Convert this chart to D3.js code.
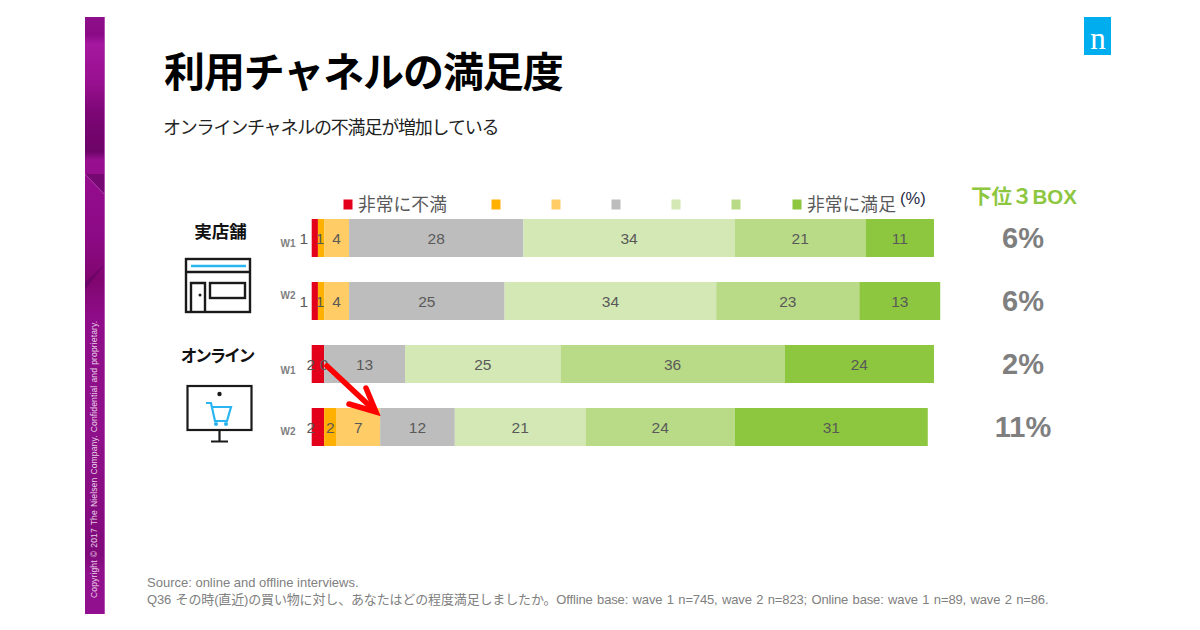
<!DOCTYPE html>
<html><head><meta charset="utf-8">
<script src="https://cdn.jsdelivr.net/npm/d3@7"></script>
<style>html,body{margin:0;padding:0;background:#fff}svg{display:block}
text{font-family:"Liberation Sans","Noto Sans CJK JP",sans-serif}</style></head>
<body><svg id="c" width="1200" height="630"></svg>
<script>
const rows = ["store-W1","store-W2","online-W1","online-W2"];
const waves = ["W1","W2","W1","W2"];
const series = ["非常に不満","s2","s3","s4","s5","s6","非常に満足"];
const colors = ["#e2001a","#ffb000","#ffcc66","#bdbdbd","#d3e8b4","#b9da87","#8dc63f"];
const veryDissatisfied = [1,1,2,2];
const dissatisfied2 = [1,1,0,2];
const dissatisfied3 = [4,4,0,7];
const neutral = [28,25,13,12];
const satisfied5 = [34,34,25,21];
const satisfied6 = [21,23,36,24];
const verySatisfied = [11,13,24,31];
const bottom3 = ["6%","6%","2%","11%"];
const waveOffsets = [5,-6,6,4];
const legendPositions = [348,496,556,616,676,736,797];

const table = [veryDissatisfied,dissatisfied2,dissatisfied3,neutral,satisfied5,satisfied6,verySatisfied];
const svg = d3.select("#c");
const JP = '"Noto Sans CJK JP","Liberation Sans",sans-serif';
const AR = '"Liberation Sans","Noto Sans CJK JP",sans-serif';
const defs = svg.append("defs");

// side band
const g = defs.append("linearGradient").attr("id","band").attr("x1",0).attr("x2",0).attr("y1",0).attr("y2",1);
[[0,"#8e0f8a"],[.03,"#8a0a86"],[.045,"#a5189f"],[.11,"#98108f"],[.16,"#7c0675"],[.225,"#6d0467"],[.24,"#98108f"],[.29,"#920c8c"],[.37,"#8c0a85"],[.44,"#80066f"],[.5,"#8e0c88"],[.7,"#8e108a"],[.9,"#800a7a"],[.93,"#8e108a"],[1,"#921090"]]
  .forEach(d=>g.append("stop").attr("offset",d[0]).attr("stop-color",d[1]));
svg.append("rect").attr("x",85).attr("y",17).attr("width",20).attr("height",597).attr("fill","url(#band)");
svg.append("rect").attr("x",104).attr("y",17).attr("width",1).attr("height",597).attr("fill","#b850b2");
svg.append("path").attr("d","M85 174L104 174L104 194Z").attr("fill","#760872");
svg.append("path").attr("d","M85 174L104 194").attr("stroke","#b040aa").attr("stroke-width",1).attr("fill","none");
svg.append("path").attr("d","M85 290L104 265L85 282Z").attr("fill","#6d0568");
svg.append("text").attr("transform","translate(97,598) rotate(-90)").attr("font-size",8.6).attr("fill","#e8cde6")
  .attr("font-family",AR).attr("word-spacing",.6).attr("letter-spacing",.1)
  .text("Copyright © 2017 The Nielsen Company. Confidential and proprietary.");

// logo
svg.append("rect").attr("x",1084).attr("y",17).attr("width",27).attr("height",38).attr("fill","#00aeef");
svg.append("text").attr("x",1098).attr("y",49).attr("text-anchor","middle").attr("fill","#fff")
  .attr("style",'font-family:"Liberation Serif",serif').attr("font-size",31).text("n");

// titles
svg.append("text").attr("x",164).attr("y",87).attr("font-size",41).attr("font-weight",700).attr("fill","#000")
  .attr("style","font-family:"+JP).attr("letter-spacing",-1.1).text("利用チャネルの満足度");
svg.append("text").attr("x",163).attr("y",134).attr("font-size",18).attr("fill","#222")
  .attr("style","font-family:"+JP).attr("letter-spacing",-1.2).text("オンラインチャネルの不満足が増加している");

// scales
const x = d3.scaleLinear().domain([0,100]).range([311.7,934]);
const y = d3.scaleBand().domain(rows).range([206.5,458.5]).paddingInner(25/63).paddingOuter(12.5/63);
const legendX = d3.scaleOrdinal().domain(series).range(legendPositions);

// legend
svg.append("g").selectAll("rect").data(series).join("rect")
  .attr("x",d=>legendX(d)-4.5).attr("y",199.5).attr("width",9).attr("height",10)
  .attr("fill",(d,i)=>colors[i]);
svg.append("g").selectAll("text").data(series.filter(d=>d[0]==="非")).join("text")
  .attr("x",d=>legendX(d)+10).attr("y",210.5).attr("font-size",17.8).attr("fill","#595959")
  .attr("style","font-family:"+JP).text(d=>d);
svg.append("text").attr("x",900).attr("y",204).attr("font-size",16.5).attr("fill","#1f2a44").attr("font-family",AR).text("(%)");
svg.append("text").attr("x",971).attr("y",204).attr("font-size",20.5).attr("font-weight",700).attr("fill","#8dc63f")
  .attr("font-family",AR).text("下位３BOX");

// bars
rows.forEach((r,ri)=>{
  let cum = 0;
  const gr = svg.append("g");
  const segs = table.map((s,si)=>{const o={v:s[ri],si,a:cum,b:cum+s[ri]};cum+=s[ri];return o;});
  gr.selectAll("rect").data(segs).join("rect")
    .attr("x",d=>x(d.a)).attr("width",d=>x(d.b)-x(d.a))
    .attr("y",y(r)).attr("height",y.bandwidth()).attr("fill",d=>colors[d.si]);
  gr.selectAll("text").data(segs.filter((d,i)=>!(d.v===0&&i>0&&segs[i-1].v===0))).join("text")
    .attr("x",d=>{
      const c=(x(d.a)+x(d.b))/2;
      return d.si===0 ? c-(d.v===1?11:7) : d.si===1&&d.v===1 ? c-1 : c;
    })
    .attr("y",y(r)+y.bandwidth()/2+5.5).attr("text-anchor","middle")
    .attr("font-size",15.5).attr("fill","#595959").attr("font-family",AR).text(d=>d.v);
  svg.append("text").attr("x",288).attr("y",y(r)+y.bandwidth()/2+waveOffsets[ri]+4)
    .attr("text-anchor","middle").attr("font-size",10).attr("font-weight",700).attr("fill","#7f7f7f")
    .attr("font-family",AR).text(waves[ri]);
  svg.append("text").attr("x",1023).attr("y",y(r)+y.bandwidth()/2+10).attr("text-anchor","middle")
    .attr("font-size",29).attr("font-weight",700).attr("fill","#7f7f7f").attr("font-family",AR).text(bottom3[ri]);
});

// arrow
svg.append("g").attr("stroke","#ff0000").attr("fill","none").attr("stroke-width",5.5).attr("stroke-linecap","round").attr("stroke-linejoin","miter")
  .selectAll("path").data(["M327 366L374 410","M349 404L376 412L366 388"]).join("path").attr("d",d=>d);

// category headers
svg.append("text").attr("x",220.5).attr("y",238).attr("text-anchor","middle").attr("font-size",17.5).attr("font-weight",700).attr("fill","#111")
  .attr("style","font-family:"+JP).text("実店舗");
svg.append("text").attr("x",217).attr("y",362).attr("text-anchor","middle").attr("font-size",16.5).attr("font-weight",700).attr("fill","#111")
  .attr("style","font-family:"+JP).attr("letter-spacing",-2).text("オンライン");

// store icon
const st = svg.append("g").attr("fill","none").attr("stroke","#1a1a1a").attr("stroke-width",2.4);
st.append("rect").attr("x",186).attr("y",259).attr("width",64).attr("height",53);
st.append("path").attr("d","M186 272H250");
st.append("path").attr("d","M191 266H246").attr("stroke","#29b6f0");
st.append("path").attr("d","M191 312V283H205V312");
st.append("rect").attr("x",210).attr("y",283).attr("width",35).attr("height",15);
st.append("circle").attr("cx",200).attr("cy",295).attr("r",1.5).attr("fill","#1a1a1a").attr("stroke","none");

// monitor icon
const mo = svg.append("g").attr("fill","none").attr("stroke","#1a1a1a").attr("stroke-width",2.2);
mo.append("rect").attr("x",187.5).attr("y",386).attr("width",64).attr("height",44);
mo.append("path").attr("d","M219.5 430V441M211 441.5H228");
mo.append("circle").attr("cx",219.5).attr("cy",394).attr("r",2.2).attr("fill","#1a1a1a").attr("stroke","none");
const cart = svg.append("g").attr("fill","none").attr("stroke","#29b6f0").attr("stroke-width",2.2);
cart.append("path").attr("d","M206 403H211L215 421H227L231 407H212");
cart.append("circle").attr("cx",216).attr("cy",424).attr("r",1).attr("fill","#29b6f0");
cart.append("circle").attr("cx",226).attr("cy",424).attr("r",1).attr("fill","#29b6f0");

// footer
const f = svg.append("g").attr("font-size",13).attr("fill","#808080").attr("font-family",AR);
f.append("text").attr("x",147).attr("y",587).text("Source: online and offline interviews.");
f.append("text").attr("x",147).attr("y",604).attr("word-spacing",1).attr("letter-spacing",-.15)
  .text("Q36 その時(直近)の買い物に対し、あなたはどの程度満足しましたか。Offline base: wave 1 n=745, wave 2 n=823; Online base: wave 1 n=89, wave 2 n=86.");
</script></body></html>
